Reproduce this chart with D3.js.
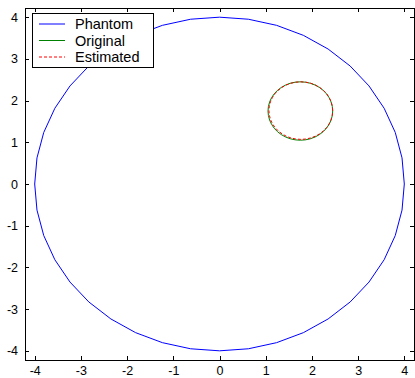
<!DOCTYPE html>
<html>
<head>
<meta charset="utf-8">
<script src="https://cdn.jsdelivr.net/npm/d3@7"></script>
<style>
  html, body { margin: 0; padding: 0; background: #fff; }
  svg { display: block; }
  text { font-family: "Liberation Sans", Arial, sans-serif; }
</style>
</head>
<body>
<svg id="chart" width="415" height="378"></svg>
<script>
// ---- data ----
const seriesNames = ["Phantom", "Original", "Estimated"];
const centerX = [0, 1.75, 1.76];
const centerY = [0, 1.75, 1.76];
const radii = [4, 0.70, 0.69];
const seriesColors = ["#0000ff", "#008000", "#ff0000"];
const seriesDash = [null, null, "3,2"];
const xTicks = [-4, -3, -2, -1, 0, 1, 2, 3, 4];
const yTicks = [-4, -3, -2, -1, 0, 1, 2, 3, 4];

// ---- layout ----
const svg = d3.select("#chart");
const L = 25, R = 414, T = 8, B = 360;
const x = d3.scaleLinear().domain([-4.21, 4.21]).range([L, R]);
const y = d3.scaleLinear().domain([-4.22, 4.22]).range([B, T]);

const g = svg.append("g");

// circles as polylines
const nSeg = 40;
const line = d3.line().x(d => x(d[0])).y(d => y(d[1]));
seriesNames.forEach((name, i) => {
  const pts = d3.range(nSeg + 1).map(k => {
    const a = (k / nSeg) * 2 * Math.PI;
    return [centerX[i] + radii[i] * Math.cos(a), centerY[i] + radii[i] * Math.sin(a)];
  });
  g.append("path")
    .attr("d", line(pts))
    .attr("fill", "none")
    .attr("stroke", seriesColors[i])
    .attr("stroke-width", 1)
    .attr("stroke-dasharray", seriesDash[i]);
});

// axes box
svg.append("rect").attr("x", L).attr("y", T).attr("width", R - L).attr("height", B - T)
  .attr("fill", "none").attr("stroke", "#000").attr("stroke-width", 1)
  .attr("shape-rendering", "crispEdges");

// ticks (inward, all four sides) using d3 axes
const tl = 4;
const axB = svg.append("g").attr("transform", `translate(0,${B})`)
  .call(d3.axisBottom(x).tickValues(xTicks).tickSizeInner(-tl).tickSizeOuter(0).tickPadding(6).tickFormat(d3.format("d")));
const axT = svg.append("g").attr("transform", `translate(0,${T})`)
  .call(d3.axisTop(x).tickValues(xTicks).tickSizeInner(-tl).tickSizeOuter(0).tickFormat(""));
const axL = svg.append("g").attr("transform", `translate(${L},0)`)
  .call(d3.axisLeft(y).tickValues(yTicks).tickSizeInner(-tl).tickSizeOuter(0).tickPadding(7).tickFormat(d3.format("d")));
const axR = svg.append("g").attr("transform", `translate(${R},0)`)
  .call(d3.axisRight(y).tickValues(yTicks).tickSizeInner(-tl).tickSizeOuter(0).tickFormat(""));
[axB, axT, axL, axR].forEach(a => {
  a.select(".domain").remove();
  a.selectAll("line").attr("stroke", "#000").attr("shape-rendering", "crispEdges");
  a.selectAll("text").attr("fill", "#000").style("font-size", "12.5px")
    .style("font-family", "'Liberation Sans', Arial, sans-serif");
});
axB.selectAll("text").text(d => d < 0 ? "-" + Math.abs(d) : String(d));
axL.selectAll("text").text(d => d < 0 ? "-" + Math.abs(d) : String(d));

// legend
const lg = svg.append("g");
lg.append("rect").attr("x", 32.5).attr("y", 13.5).attr("width", 121).attr("height", 54)
  .attr("fill", "#fff").attr("stroke", "#000").attr("stroke-width", 1);
seriesNames.forEach((name, i) => {
  const yy = 24 + i * 16.5;
  lg.append("line").attr("x1", 39).attr("x2", 65).attr("y1", yy).attr("y2", yy)
    .attr("stroke", seriesColors[i]).attr("stroke-width", 1)
    .attr("stroke-dasharray", seriesDash[i]);
  lg.append("text").attr("x", 75).attr("y", yy + 5).text(name)
    .style("font-size", "14.5px").attr("fill", "#000");
});
</script>
</body>
</html>
